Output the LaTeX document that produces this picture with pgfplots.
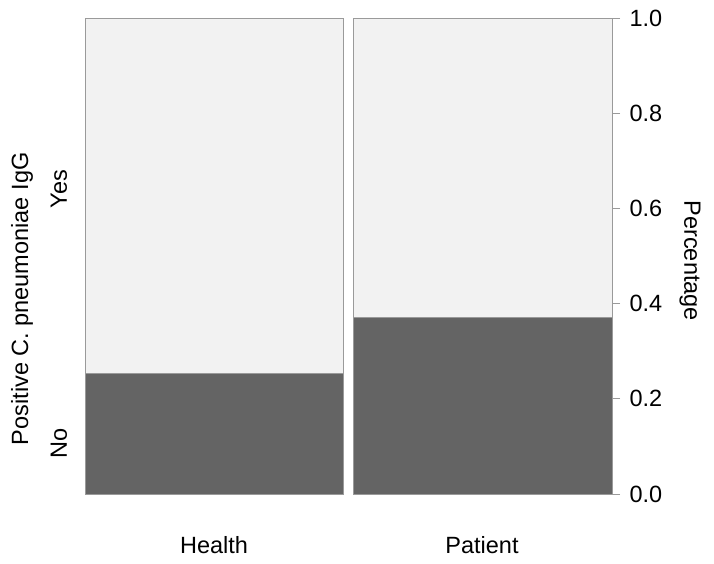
\documentclass[border=0pt]{standalone}
\usepackage{pgfplots}
\pgfplotsset{compat=1.18}
\usepackage{fontspec}
\setmainfont{Liberation Sans}
\definecolor{lightfill}{HTML}{F2F2F2}
\definecolor{darkfill}{HTML}{646464}
\definecolor{edge}{HTML}{9A9A9A}
\newcommand{\chartfont}{\fontsize{23.5}{28}\selectfont}

\begin{document}
\begin{tikzpicture}
\begin{axis}[
    scale only axis,
    width=527pt, height=476pt,
    xmin=0, xmax=527, ymin=0, ymax=1,
    axis line style={draw=none},
    clip=false,
    xtick={129,397},
    xticklabels={Health,Patient},
    x tick style={draw=none},
    xticklabel style={anchor=base, yshift=-51pt},
    ytick={0,0.2,0.4,0.6,0.8,1.0},
    ytick pos=right,
    yticklabel pos=right,
    y tick style={draw=edge, line width=0.8pt},
    tick align=outside,
    major tick length=8pt,
    yticklabel style={/pgf/number format/fixed, /pgf/number format/precision=1,
        /pgf/number format/fixed zerofill, xshift=6pt},
    /pgf/number format/assume math mode=true,
    tick label style={font=\chartfont},
]
% Health: No / Yes
\addplot[fill=darkfill, draw=edge, line width=0.8pt] coordinates {(0,0) (258,0) (258,0.254) (0,0.254)} -- cycle;
\addplot[fill=lightfill, draw=edge, line width=0.8pt] coordinates {(0,0.254) (258,0.254) (258,1) (0,1)} -- cycle;
% Patient: No / Yes
\addplot[fill=darkfill, draw=edge, line width=0.8pt] coordinates {(268,0) (527,0) (527,0.370) (268,0.370)} -- cycle;
\addplot[fill=lightfill, draw=edge, line width=0.8pt] coordinates {(268,0.370) (527,0.370) (527,1) (268,1)} -- cycle;

\node[rotate=90, font=\chartfont] at ([xshift=-26pt]axis cs:0,0.107) {No};
\node[rotate=90, font=\chartfont] at ([xshift=-26pt]axis cs:0,0.641) {Yes};
\node[rotate=90, font=\chartfont] at ([xshift=-63pt]axis cs:0,0.41) {Positive C. pneumoniae IgG};
\node[rotate=-90, font=\chartfont] at ([xshift=78pt]axis cs:527,0.49) {Percentage};
\end{axis}
\pgfresetboundingbox
\path[use as bounding box] ([xshift=-85pt,yshift=-69pt]current axis.south west) rectangle ([xshift=102pt,yshift=18pt]current axis.north east);
\end{tikzpicture}
\end{document}
